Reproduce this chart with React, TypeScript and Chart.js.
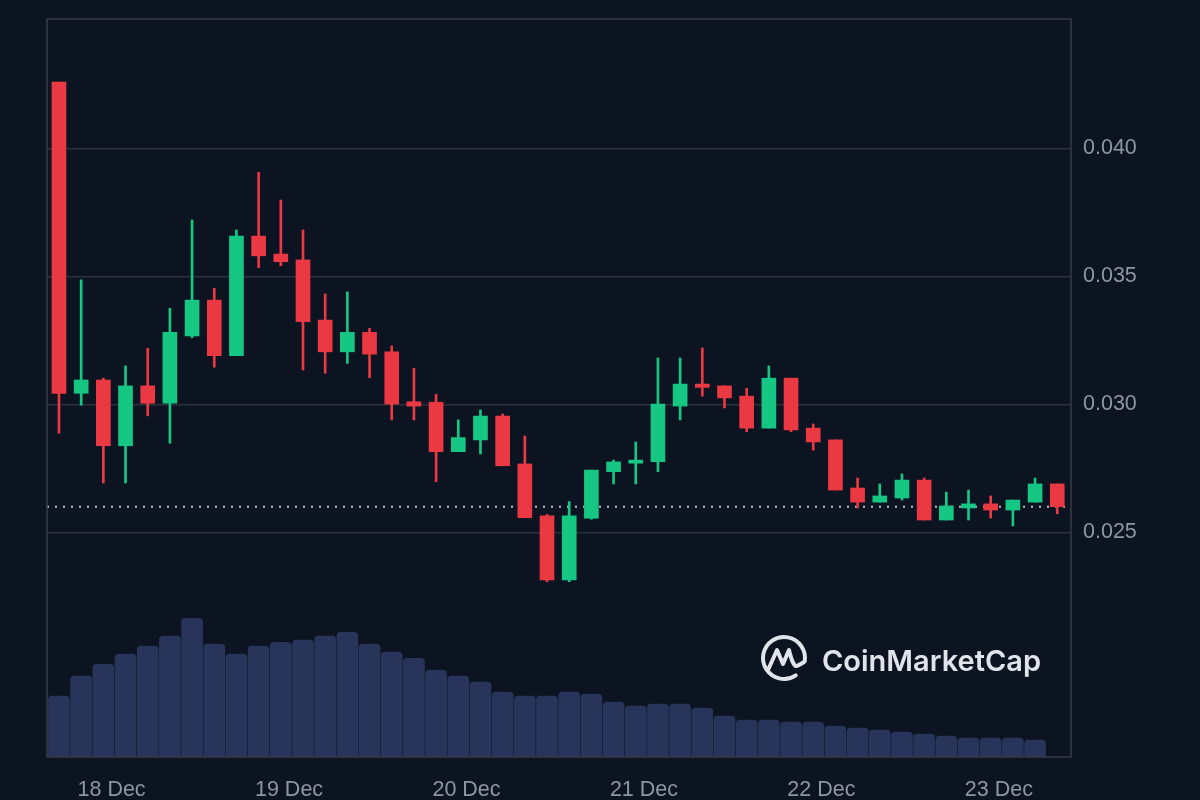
import React, { useEffect, useRef } from "react";
import { Chart, registerables } from "chart.js";

Chart.register(...registerables);

// 3-hour candles, 17 Dec evening -> 23 Dec
const OPEN = [0.04259, 0.03043, 0.03095, 0.02838, 0.03072, 0.03004, 0.03267, 0.03407, 0.0319, 0.03657, 0.03587, 0.03564, 0.03329, 0.03205, 0.03281, 0.03205, 0.0301, 0.03008, 0.02815, 0.02861, 0.02954, 0.02767, 0.02564, 0.02314, 0.02555, 0.02737, 0.0277, 0.02776, 0.02993, 0.03079, 0.03072, 0.03032, 0.02907, 0.03102, 0.02907, 0.02861, 0.02673, 0.02618, 0.02634, 0.02704, 0.02548, 0.02595, 0.02611, 0.02587, 0.02618, 0.02689];
const HIGH = [0.04259, 0.03486, 0.03102, 0.0315, 0.03219, 0.03375, 0.0372, 0.03453, 0.03681, 0.03906, 0.03798, 0.03681, 0.03431, 0.03439, 0.03297, 0.03228, 0.03141, 0.03039, 0.02939, 0.02978, 0.02962, 0.02876, 0.0257, 0.0262, 0.02743, 0.02782, 0.02853, 0.03181, 0.03181, 0.0322, 0.03072, 0.03063, 0.0315, 0.03102, 0.02923, 0.02861, 0.02712, 0.02689, 0.02728, 0.02712, 0.02657, 0.02665, 0.02642, 0.02626, 0.02712, 0.02689];
const LOW = [0.02887, 0.02997, 0.02693, 0.02693, 0.02955, 0.02848, 0.0326, 0.03145, 0.0319, 0.03534, 0.03541, 0.03134, 0.03121, 0.0316, 0.03104, 0.02939, 0.02939, 0.02698, 0.02815, 0.02806, 0.0276, 0.02557, 0.02307, 0.02307, 0.02551, 0.02689, 0.02689, 0.02737, 0.02939, 0.03032, 0.02986, 0.02893, 0.02907, 0.02893, 0.02821, 0.02665, 0.02595, 0.02618, 0.02626, 0.02548, 0.02548, 0.02548, 0.02556, 0.02525, 0.02618, 0.02572];
const CLOSE = [0.03043, 0.03095, 0.02838, 0.03072, 0.03004, 0.03281, 0.03407, 0.0319, 0.03657, 0.0358, 0.03557, 0.03323, 0.03205, 0.03281, 0.03196, 0.03001, 0.02993, 0.02815, 0.0287, 0.02954, 0.0276, 0.02557, 0.02314, 0.02564, 0.02743, 0.02775, 0.02782, 0.03001, 0.03079, 0.03066, 0.03025, 0.02907, 0.03102, 0.029, 0.02853, 0.02665, 0.02618, 0.02642, 0.02704, 0.02548, 0.02603, 0.02611, 0.02587, 0.02626, 0.02689, 0.026];
// volume (millions), last open candle has no bar yet
const VOLUME = [6.1, 8.1, 9.27, 10.3, 11.1, 12.1, 13.87, 11.3, 10.3, 11.1, 11.47, 11.7, 12.1, 12.47, 11.3, 10.5, 9.87, 8.7, 8.1, 7.5, 6.5, 6.1, 6.1, 6.5, 6.3, 5.5, 5.1, 5.3, 5.3, 4.9, 4.1, 3.7, 3.7, 3.5, 3.5, 3.1, 2.9, 2.7, 2.5, 2.3, 2.1, 1.9, 1.9, 1.9, 1.7];

const DAY_LABELS = ["18 Dec", "19 Dec", "20 Dec", "21 Dec", "22 Dec", "23 Dec"];
const DAY_START_INDEX = [2.37, 10.37, 18.37, 26.37, 34.37, 42.37];
const PRICE_TICKS = [0.025, 0.03, 0.035, 0.04];

const UP = "#16c784";
const DOWN = "#ea3943";
const BG = "#0d1421";
const TICK_COLOR = "#8f96a3";
const FONT_FAMILY = "'Liberation Sans', Arial, Helvetica, sans-serif";

const chromePlugin = {
  id: "chrome",
  beforeDatasetsDraw(chart: any) {
    const { ctx, chartArea } = chart;
    const cx = chartArea.right - 287;
    const cy = chartArea.bottom - 99;
    ctx.save();
    ctx.strokeStyle = "#e1e4eb";
    ctx.fillStyle = "#e1e4eb";
    ctx.lineWidth = 4;
    ctx.lineCap = "round";
    ctx.lineJoin = "round";
    const r = 21;
    ctx.beginPath();
    ctx.arc(cx, cy, r, (56 * Math.PI) / 180, (369 * Math.PI) / 180);
    ctx.stroke();
    ctx.beginPath();
    ctx.moveTo(cx - 16, cy + 12);
    ctx.lineTo(cx - 7, cy - 8);
    ctx.lineTo(cx - 1, cy + 6);
    ctx.lineTo(cx + 5, cy - 8);
    ctx.quadraticCurveTo(cx + 9, cy + 9, cx + 13, cy + 8);
    ctx.quadraticCurveTo(cx + 17, cy + 6, cx + 20, cy + 4);
    ctx.stroke();
    ctx.font = "600 29px Inter, 'Open Sans', sans-serif";
    ctx.textAlign = "left";
    ctx.textBaseline = "alphabetic";
    ctx.fillText("CoinMarketCap", chartArea.right - 249, chartArea.bottom - 86);
    ctx.restore();
  },
  afterDraw(chart: any) {
    const { ctx, chartArea } = chart;
    ctx.save();
    ctx.strokeStyle = "#363c48";
    ctx.lineWidth = 1.5;
    ctx.strokeRect(chartArea.left, chartArea.top, chartArea.right - chartArea.left, chartArea.bottom - chartArea.top);
    ctx.restore();
  },
};

export default function App() {
  const canvasRef = useRef<HTMLCanvasElement | null>(null);

  useEffect(() => {
    if (!canvasRef.current) return;
    const idx = OPEN.map((_, i) => i);
    const colors = idx.map((i) => (CLOSE[i] >= OPEN[i] ? UP : DOWN));
    const last = CLOSE[CLOSE.length - 1];
    const xMin = -0.54;
    const xMax = 45.62;

    const chart = new Chart(canvasRef.current, {
      type: "bar",
      data: {
        datasets: [
          {
            type: "bar",
            label: "body",
            data: idx.map((i) => ({ x: i, y: [OPEN[i], CLOSE[i]] })) as any,
            backgroundColor: colors,
            barThickness: 14,
            minBarLength: 2,
            grouped: false,
            borderWidth: 0,
            yAxisID: "y",
            xAxisID: "x",
            order: 0,
          } as any,
          {
            type: "bar",
            label: "wick",
            data: idx.map((i) => ({ x: i, y: [LOW[i], HIGH[i]] })) as any,
            backgroundColor: colors,
            barThickness: 2,
            grouped: false,
            borderWidth: 0,
            yAxisID: "y",
            xAxisID: "x",
            order: 1,
          } as any,
          {
            type: "line",
            label: "last",
            data: [
              { x: xMin, y: last },
              { x: xMax, y: last },
            ],
            borderColor: "#b9bec8",
            borderWidth: 2,
            borderDash: [2, 6],
            pointRadius: 0,
            yAxisID: "y",
            xAxisID: "x",
            order: 3,
          } as any,
          {
            type: "bar",
            label: "volume",
            data: VOLUME.map((v, i) => ({ x: i, y: v })) as any,
            backgroundColor: "#28345a",
            barThickness: 21,
            grouped: false,
            borderWidth: 0,
            borderRadius: 4,
            yAxisID: "yVol",
            xAxisID: "x",
            order: 2,
          } as any,
        ],
      },
      options: {
        responsive: false,
        animation: false,
        layout: { padding: { left: 47, top: 19, right: 0, bottom: 0 } },
        plugins: {
          legend: { display: false },
          tooltip: { enabled: false },
        },
        scales: {
          x: {
            type: "linear",
            offset: false,
            min: xMin,
            max: xMax,
            grid: { display: false },
            border: { display: false },
            afterBuildTicks: (s: any) => {
              s.ticks = DAY_START_INDEX.map((v) => ({ value: v }));
            },
            afterFit: (s: any) => {
              s.height = 43;
              s.paddingLeft = 0;
              s.paddingRight = 0;
            },
            ticks: {
              autoSkip: false,
              maxRotation: 0,
              padding: 12,
              color: TICK_COLOR,
              font: { family: FONT_FAMILY, size: 21.5 },
              callback: (_v: any, i: number) => DAY_LABELS[i],
            },
          },
          y: {
            type: "linear",
            position: "right",
            min: 0.016223,
            max: 0.045051,
            grid: { color: "#2a303c", lineWidth: 1.5, drawTicks: false },
            border: { display: false },
            afterBuildTicks: (s: any) => {
              s.ticks = PRICE_TICKS.map((v) => ({ value: v }));
            },
            afterFit: (s: any) => {
              s.width = 129;
              s.paddingTop = 0;
              s.paddingBottom = 0;
            },
            ticks: {
              padding: 12,
              color: TICK_COLOR,
              font: { family: FONT_FAMILY, size: 21.5 },
              callback: (v: any) => Number(v).toFixed(3),
            },
          },
          yVol: {
            type: "linear",
            display: false,
            min: 0,
            max: 73.8,
          },
        },
      } as any,
      plugins: [chromePlugin],
    });
    return () => chart.destroy();
  }, []);

  return (
    <div style={{ position: "fixed", left: 0, top: 0, width: 1200, height: 800, background: BG }}>
      <canvas ref={canvasRef} width={1200} height={800} style={{ display: "block" }} />
    </div>
  );
}
